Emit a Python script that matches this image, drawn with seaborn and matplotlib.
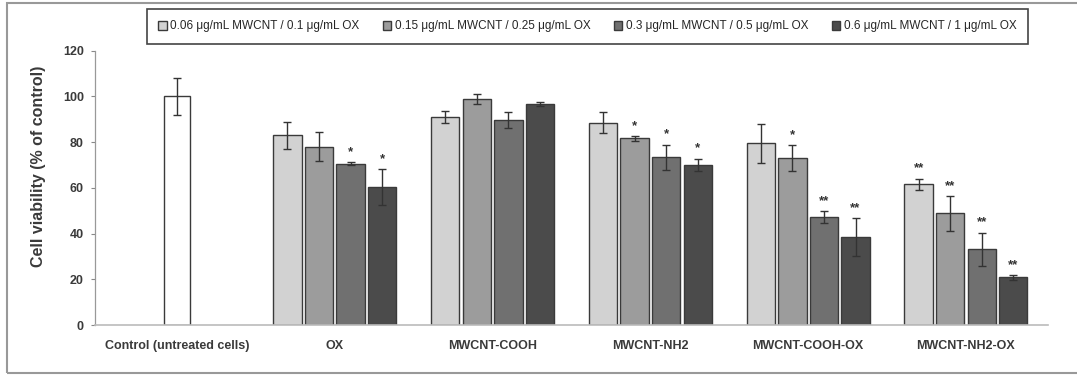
import numpy as np
import pandas as pd
import matplotlib
matplotlib.use("Agg")
import matplotlib.pyplot as plt
import seaborn as sns
from matplotlib.patches import Rectangle

# ---------------- data ----------------
control_label = "Control (untreated cells)"
groups = ["OX", "MWCNT-COOH", "MWCNT-NH2", "MWCNT-COOH-OX", "MWCNT-NH2-OX"]
series = [
    "0.06 μg/mL MWCNT / 0.1 μg/mL OX",
    "0.15 μg/mL MWCNT / 0.25 μg/mL OX",
    "0.3 μg/mL MWCNT / 0.5 μg/mL OX",
    "0.6 μg/mL MWCNT / 1 μg/mL OX",
]
control_value = [100]
control_err = [8]

s1 = [83.0, 91.0, 88.5, 79.5, 61.5]
s2 = [78.0, 98.8, 81.7, 73.0, 48.9]
s3 = [70.6, 89.7, 73.4, 47.1, 33.1]
s4 = [60.5, 96.7, 70.0, 38.6, 20.9]

s1_err = [5.8, 2.5, 4.5, 8.5, 2.5]
s2_err = [6.4, 2.2, 1.0, 5.6, 7.6]
s3_err = [0.6, 3.5, 5.5, 2.6, 7.3]
s4_err = [7.8, 1.0, 2.7, 8.2, 1.0]

s1_sig = ["", "", "", "", "**"]
s2_sig = ["", "", "*", "*", "**"]
s3_sig = ["*", "", "*", "**", "**"]
s4_sig = ["*", "", "*", "**", "**"]

y_ticks = [0, 20, 40, 60, 80, 100, 120]
y_label = "Cell viability (% of control)"

# ---------------- styling ----------------
sns.set_theme(style="white")
plt.rcParams["font.family"] = ["Liberation Sans", "DejaVu Sans"]

colors = ["#d2d2d2", "#9c9c9c", "#707070", "#4b4b4b"]
edge = "#3a3a3a"

values = [s1, s2, s3, s4]
errs = [s1_err, s2_err, s3_err, s4_err]
sigs = [s1_sig, s2_sig, s3_sig, s4_sig]

rows = []
for si, name in enumerate(series):
    for gi, g in enumerate(groups):
        rows.append({"group": g, "series": name, "value": values[si][gi]})
df = pd.DataFrame(rows)
df_ctrl = pd.DataFrame({"group": [control_label], "value": control_value})

order = [control_label] + groups

fig = plt.figure(figsize=(10.77, 3.76), dpi=100)
ax = fig.add_axes([95 / 1077, 1 - 325 / 376, (1048 - 95) / 1077, (325 - 50.7) / 376])

sns.barplot(data=df, x="group", y="value", hue="series", order=order,
            hue_order=series, palette=colors, width=0.8, gap=0.1,
            edgecolor=edge, linewidth=1.0, errorbar=None, ax=ax)

hue_patches = list(ax.patches)

# error bars and significance marks for the series bars
for p in hue_patches:
    cx = p.get_x() + p.get_width() / 2
    h = p.get_height()
    if h == 0 or np.isnan(h):
        continue
    gi = int(round(cx)) - 1
    si = int(round((cx - round(cx) + 0.3) / 0.2))
    if gi < 0 or gi >= len(groups) or si < 0 or si >= len(series):
        continue
    e = errs[si][gi]
    ax.errorbar(cx, h, yerr=e, fmt="none", ecolor="#333333", elinewidth=1.0,
                capsize=3, capthick=1.0, zorder=5)
    mark = sigs[si][gi]
    if mark:
        ax.annotate(mark, (cx, h + e), xytext=(0, 3), textcoords="offset points",
                    ha="center", va="bottom", fontsize=9.5, fontweight="bold",
                    color="#333333")

# control bar
sns.barplot(data=df_ctrl, x="group", y="value", order=order, color="white",
            width=0.17, edgecolor=edge, linewidth=1.0, errorbar=None, ax=ax)
for p in ax.patches[len(hue_patches):]:
    cx = p.get_x() + p.get_width() / 2
    ax.errorbar(cx, p.get_height(), yerr=control_err[0], fmt="none",
                ecolor="#333333", elinewidth=1.0, capsize=3, capthick=1.0, zorder=5)

# axes
ax.set_xlim(-0.52, 5.52)
ax.set_ylim(0, 120)
ax.set_yticks(y_ticks)
ax.set_yticklabels([str(t) for t in y_ticks], fontsize=9, fontweight="bold", color="#3a3a3a")
ax.set_xticks(range(len(order)))
ax.set_xticklabels(order, fontsize=9, fontweight="bold", color="#3a3a3a")
ax.set_xlabel("")
ax.set_ylabel(y_label, fontsize=11.5, fontweight="bold", color="#3a3a3a")
ax.yaxis.set_label_coords(-0.051, 0.58)
ax.tick_params(axis="y", which="both", left=True, length=3, width=0.8, color="#888888", pad=5)
ax.tick_params(axis="x", which="both", bottom=False, pad=5)
for side in ["top", "right"]:
    ax.spines[side].set_visible(False)
ax.spines["left"].set_color("#999999")
ax.spines["left"].set_linewidth(0.9)
ax.spines["bottom"].set_color("#bbbbbb")
ax.spines["bottom"].set_linewidth(1.2)

# legend
handles, labels = ax.get_legend_handles_labels()
handles, labels = handles[:4], labels[:4]
ax.legend(handles, labels, loc="center", bbox_to_anchor=(587.5 / 1077, 1 - 26.5 / 376),
          bbox_transform=fig.transFigure, ncol=4, fontsize=8.5, frameon=True,
          fancybox=False, edgecolor="#444444", framealpha=1, handlelength=0.7,
          handleheight=0.7, handletextpad=0.3, columnspacing=2.0, borderpad=1.0)
ax.get_legend().get_frame().set_linewidth(1.2)

# outer chart border
fig.patches.append(Rectangle((7 / 1077, 3 / 376), 1.1, 1 - 6 / 376, transform=fig.transFigure,
                             fill=False, edgecolor="#999999", linewidth=1.5))

fig.savefig("out.png", dpi=100)
